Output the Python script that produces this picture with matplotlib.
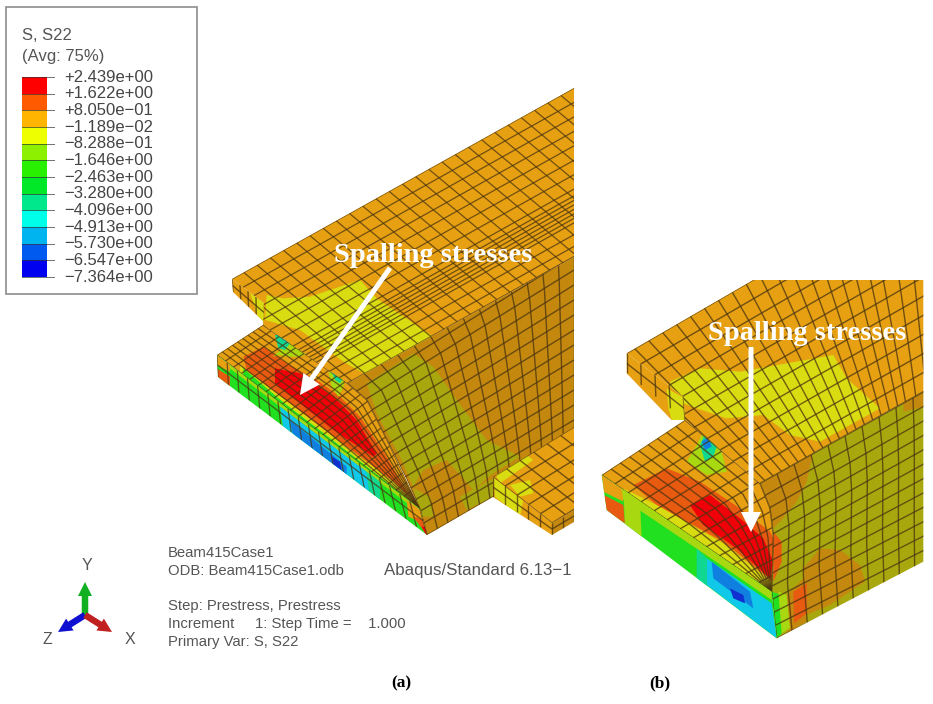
import numpy as np
import matplotlib
matplotlib.use("Agg")
import matplotlib.pyplot as plt
from matplotlib.patches import Polygon, Rectangle, FancyArrow
from matplotlib.collections import LineCollection

plt.rcParams['font.family'] = ['Liberation Sans', 'DejaVu Sans']

# ---------- legend data ----------
legend_title = ["S, S22", "(Avg: 75%)"]
legend_labels = ["+2.439e+00", "+1.622e+00", "+8.050e\u221201", "\u22121.189e\u221202",
                 "\u22128.288e\u221201", "\u22121.646e+00", "\u22122.463e+00", "\u22123.280e+00",
                 "\u22124.096e+00", "\u22124.913e+00", "\u22125.730e+00", "\u22126.547e+00",
                 "\u22127.364e+00"]
legend_colors = ["#FF0000", "#FF5A00", "#FFB400", "#EEFF00", "#8CF000", "#28F000",
                 "#00E828", "#00E88C", "#00FFE8", "#00B4F0", "#005AF0", "#0000F0"]
info_lines = ["Beam415Case1", "ODB: Beam415Case1.odb", "", "Step: Prestress, Prestress",
              "Increment     1: Step Time =    1.000", "Primary Var: S, S22"]
info_right = "Abaqus/Standard 6.13\u22121"

# ---------- palette ----------
ORANGE, DARKOR, OLIVE, YELLOW = "#E6A012", "#C4880E", "#A8A80E", "#D8DC10"
REDOR, RED, YG, GREEN = "#E85A10", "#F00008", "#A8D810", "#20E020"
TEAL, CYAN, BLUE, DBLUE = "#10D890", "#10C8E8", "#1080E0", "#1030D0"
LINE = "#4A3410"

fig = plt.figure(figsize=(9.33, 7.04), dpi=100, facecolor="white")
ax = fig.add_axes([0, 0, 1, 1])
ax.set_xlim(0, 933)
ax.set_ylim(704, 0)
ax.axis("off")


def rail(poly, s):
    p = np.asarray(poly, float)
    d = np.r_[0, np.cumsum(np.hypot(*np.diff(p, axis=0).T))]
    d = d / d[-1]
    return np.c_[np.interp(s, d, p[:, 0]), np.interp(s, d, p[:, 1])]


def face(outline, base, blobs, a, b, ss, ts, z=1.0, lw=1.0):
    poly = Polygon(outline, closed=True, fc=base, ec="none", zorder=z)
    ax.add_patch(poly)
    for col, pts in blobs:
        p = Polygon(pts, closed=True, fc=col, ec="none", zorder=z + .01)
        ax.add_patch(p)
        p.set_clip_path(poly)
    segs = []
    fine = np.linspace(0, 1, 60)
    tmin, tmax = min(ts), max(ts)
    for s in ss:
        A, B = rail(a, [s]), rail(b, [s])
        segs.append(A + np.outer(tmin + fine * (tmax - tmin), B - A))
    for t in ts:
        segs.append(rail(a, fine) * (1 - t) + rail(b, fine) * t)
    lc = LineCollection(segs, colors=LINE, linewidths=lw, alpha=.75, zorder=z + .02)
    ax.add_collection(lc)
    lc.set_clip_path(poly)


def zm(pts, ox, oy):
    return [(ox + x / 3, oy + y / 3) for x, y in pts]


def A_(pts):
    return zm(pts, 200, 240)


def B_(pts):
    return zm(pts, 590, 275)


lin = np.linspace

# ================= panel (a) =================
# top surface
face([(232, 279), (574, 88), (574, 257), (353, 380), (347, 383), (263, 325), (264, 303)], ORANGE,
     [(YELLOW, A_([(200, 165), (250, 175), (330, 170), (480, 120), (530, 175), (700, 290),
                   (640, 335), (500, 405), (430, 365), (300, 270), (195, 240)]))],
     [(232, 279), (353, 380)], [(574, 88), (695, 189)],
     np.r_[lin(0, .6, 8), lin(.64, .8, 7), .87, .94, 1], lin(-.12, 1, 30), lw=.9)
# upper flange side
face([(232, 279), (264, 303), (264, 322), (233, 292)], ORANGE,
     [(YELLOW, [(250, 293), (264, 303), (264, 322), (258, 316)])],
     [(232, 279), (233, 292)], [(264, 303), (264, 322)], [.5], lin(0, 1, 5))
# curved end face
arc = [(347, 383), (367, 400), (387, 440), (407, 480), (420, 509), (427, 535)]
face(arc + [(574, 450), (574, 257), (353, 380)], DARKOR,
     [(OLIVE, A_([(500, 430), (640, 340), (700, 380), (770, 480), (860, 600), (960, 650),
                  (880, 700), (820, 750), (740, 660), (670, 690), (640, 740), (600, 650), (530, 520)])),
      (OLIVE, A_([(640, 745), (690, 770), (700, 830), (660, 830)])),
      (OLIVE, A_([(780, 770), (880, 715), (880, 770), (800, 810)]))],
     arc, [(574, 240), (574, 450)], lin(0, 1, 15), lin(0, 1, 15))
# lower flange top (fan)
front = [(217, 355), (420, 509)]
back = [(263, 325), (347, 383), (367, 400), (387, 440), (420, 509)]
face(front + back[::-1], ORANGE,
     [(REDOR, A_([(130, 350), (190, 320), (260, 370), (350, 420), (420, 470), (480, 530),
                  (560, 650), (640, 790), (580, 745), (400, 620), (250, 500), (140, 390)])),
      (RED, A_([(225, 385), (300, 400), (400, 470), (470, 540), (530, 640), (520, 650),
                (400, 570), (300, 490), (225, 430)])),
      (YELLOW, A_([(120, 375), (250, 475), (400, 590), (580, 725), (650, 790), (650, 805),
                   (400, 611), (250, 497), (120, 398)])),
      (GREEN, A_([(130, 385), (250, 487), (400, 602), (600, 757), (650, 805), (400, 620),
                  (250, 505), (130, 410)])),
      (YG, A_([(218, 350), (290, 290), (330, 340), (300, 350), (260, 350), (240, 345)])),
      (TEAL, A_([(225, 285), (290, 282), (255, 330), (235, 325)])),
      (CYAN, A_([(240, 285), (285, 282), (260, 310)])),
      (BLUE, A_([(250, 287), (275, 287), (260, 300)])),
      (YG, A_([(385, 395), (440, 395), (430, 440), (415, 470), (395, 440)])),
      (TEAL, A_([(395, 395), (440, 395), (420, 430), (405, 420)])),
      (REDOR, A_([(270, 262), (310, 270), (300, 285)])),
      (REDOR, A_([(390, 380), (450, 378), (410, 395)]))],
     front, back, lin(0, 1, 26), lin(0, 1, 10), lw=.9)
# lower flange side
side_a = [(217, 355), (218, 377)]
side_b = [(420, 509), (427, 535)]
face(side_a + side_b[::-1], GREEN,
     [(YG, A_([(50, 345), (650, 800), (655, 815), (50, 355)])),
      (CYAN, A_([(240, 500), (300, 545), (500, 695), (510, 770), (300, 612), (250, 565)])),
      (BLUE, A_([(270, 540), (330, 590), (440, 680), (440, 710), (330, 630), (280, 590)])),
      (DBLUE, A_([(395, 650), (420, 665), (425, 690), (400, 675)])),
      (TEAL, A_([(500, 695), (540, 725), (540, 790), (510, 770)])),
      (ORANGE, A_([(50, 345), (90, 375), (90, 395), (50, 375)])),
      (REDOR, A_([(50, 385), (90, 410), (90, 440), (55, 415)])),
      (ORANGE, A_([(620, 780), (670, 815), (670, 850), (625, 830)])),
      (REDOR, A_([(640, 830), (680, 840), (680, 885)])),
      (RED, A_([(665, 860), (685, 860), (680, 888)]))],
     side_a, side_b, [.45], lin(0, 1, 21), z=2, lw=.9)
# right flange
face([(493, 477), (574, 427), (574, 510), (552, 523)], ORANGE,
     [(YELLOW, A_([(885, 700), (980, 645), (1000, 660), (900, 730)])),
      (YELLOW, A_([(930, 735), (990, 720), (1000, 760), (960, 770)]))],
     [(493, 477), (552, 523)], [(574, 427), (633, 473)], lin(0, 1, 6), lin(0, 1, 7), z=3)
face([(493, 477), (552, 523), (552, 535), (493, 497)], ORANGE,
     [(YELLOW, A_([(880, 710), (930, 745), (970, 780), (960, 830), (885, 770)]))],
     [(493, 477), (493, 497)], [(552, 523), (552, 535)], [.5], lin(0, 1, 6), z=3)
face([(552, 523), (574, 510), (574, 522), (552, 535)], DARKOR, [],
     [(552, 523), (552, 535)], [(574, 510), (574, 522)], [.5], lin(0, 1, 3), z=3)

# ================= panel (b) =================
face(B_([(110, 235), (490, 15), (1000, 15), (1000, 350), (510, 625), (285, 435), (280, 365)]), ORANGE,
     [(YELLOW, B_([(240, 320), (330, 280), (450, 290), (730, 240), (770, 310), (870, 400),
                   (690, 500), (600, 480), (520, 420), (410, 430), (320, 400), (240, 370)]))],
     B_([(110, 235), (510, 625)]), B_([(1100, -339), (1100, 294)]),
     lin(0, 1, 12), np.r_[lin(-.06, .7, 19), lin(.74, 1, 6)])
face(B_([(110, 235), (280, 365), (285, 435), (245, 435), (110, 295)]), ORANGE,
     [(YELLOW, B_([(230, 340), (285, 370), (285, 435), (245, 435), (235, 400)]))],
     B_([(110, 235), (110, 295)]), B_([(280, 365), (285, 435)]), [.5], lin(0, 1, 5))
b_arc = [(510, 625), (540, 700), (550, 780), (545, 950), (560, 1090)]
face(B_(b_arc + [(1000, 860), (1000, 350)]), OLIVE,
     [(DARKOR, B_([(510, 625), (670, 530), (650, 620), (620, 680), (570, 740), (550, 760)])),
      (DARKOR, B_([(940, 380), (1000, 350), (1000, 395), (940, 410)])),
      (DARKOR, B_([(640, 880), (690, 820), (750, 825), (810, 870), (825, 920), (720, 990), (650, 1020)])),
      (REDOR, B_([(550, 770), (575, 800), (575, 860), (550, 920)])),
      (DARKOR, B_([(590, 960), (650, 900), (650, 1040), (590, 1075)])),
      (REDOR, B_([(610, 950), (650, 925), (650, 1015), (612, 1045)])),
      (GREEN, B_([(545, 950), (575, 960), (590, 1060), (560, 1090)])),
      (YG, B_([(565, 950), (590, 960), (600, 1060), (575, 1075)]))],
     B_(b_arc), B_([(1020, 340), (1020, 860)]), lin(0, 1, 13), lin(0, 1, 11))
b_front = [(35, 600), (545, 950)]
b_back = [(285, 435), (510, 625), (540, 700), (550, 780), (545, 950)]
face(B_(b_front + b_back[::-1]), ORANGE,
     [(REDOR, B_([(130, 630), (230, 580), (330, 620), (450, 700), (540, 770), (570, 830), (550, 920),
                  (400, 800), (200, 690)])),
      (RED, B_([(300, 690), (360, 660), (450, 730), (520, 790), (550, 860), (540, 910),
                (440, 820), (340, 750)])),
      (YELLOW, B_([(100, 640), (200, 690), (400, 805), (550, 925), (545, 960), (400, 850), (200, 720), (100, 670)])),
      (YG, B_([(290, 560), (320, 510), (340, 470), (390, 510), (410, 590), (350, 600)])),
      (TEAL, B_([(330, 510), (350, 465), (385, 500), (370, 545), (345, 560)])),
      (BLUE, B_([(335, 500), (355, 485), (365, 515), (345, 525)])),
      (REDOR, B_([(390, 450), (420, 480), (450, 490), (420, 510), (400, 485)]))],
     B_(b_front), B_(b_back), lin(0, 1, 14), lin(0, 1, 10))
b_a = [(35, 600), (50, 705)]
b_b = [(545, 950), (560, 1090)]
face(B_(b_a + b_b[::-1]), GREEN,
     [(YG, B_([(95, 640), (200, 710), (400, 850), (545, 950), (545, 975), (400, 875), (200, 740), (95, 670)])),
      (ORANGE, B_([(35, 600), (95, 640), (100, 680), (40, 650)])),
      (REDOR, B_([(42, 660), (100, 690), (105, 745), (50, 710)])),
      (YG, B_([(100, 640), (150, 680), (155, 790), (105, 750)])),
      (TEAL, B_([(320, 820), (350, 850), (350, 950), (320, 920)])),
      (CYAN, B_([(350, 850), (545, 985), (560, 1090), (350, 930)])),
      (BLUE, B_([(365, 860), (480, 950), (490, 1000), (370, 910)])),
      (DBLUE, B_([(420, 940), (460, 960), (465, 985), (430, 970)]))],
     b_a, b_b, [.5], lin(0, 1, 10), z=2)

# ================= legend =================
ax.add_patch(Rectangle((6, 7), 191, 287, fc="white", ec="#8C8C8C", lw=1.2, zorder=5))
for line, y in zip(legend_title, [35, 57]):
    ax.text(22, y, line, fontsize=12, color="#555555", va="center", zorder=6)
y0, dy, xb, wb = 77.0, 16.67, 22, 25
for i, col in enumerate(legend_colors):
    ax.add_patch(Rectangle((xb, y0 + i * dy), wb, dy, fc=col, ec="none", zorder=6))
for i, lab in enumerate(legend_labels):
    y = y0 + i * dy
    ax.plot([xb, 54], [y, y], color="#333333", lw=.7, alpha=.7, zorder=7)
    ax.text(64, y, lab, fontsize=12, color="#444444", va="center", zorder=7)

# ================= triad =================
ox, oy = 85, 615
for dx, dy_, col in [(0, -33, "#10B020"), (-27, 17, "#1010D0"), (27, 17, "#C02020")]:
    ax.add_patch(FancyArrow(ox, oy, dx, dy_, width=6.5, head_width=14, head_length=14,
                            length_includes_head=True, fc=col, ec="none", zorder=6))
for s, x, y in [("Y", 87, 566), ("Z", 47, 639), ("X", 130, 639)]:
    ax.text(x, y, s, fontsize=11.5, color="#555555", ha="center", va="center", zorder=6)

# ================= info text =================
for line, y in zip(info_lines, [553, 571, 588, 606, 624, 642]):
    ax.text(168, y, line, fontsize=10.7, color="#555555", va="center", zorder=6)
ax.text(384, 571, info_right, fontsize=12.2, color="#555555", va="center", zorder=6)

# ================= annotations =================
serif = ['Liberation Serif', 'DejaVu Serif']
for s, x, y in [("Spalling stresses", 433, 255), ("Spalling stresses", 807, 334)]:
    ax.text(x, y, s, family=serif, fontweight="bold", fontsize=20.5, color="white",
            ha="center", va="center", zorder=9)
for s, x in [("(a)", 401), ("(b)", 660)]:
    ax.text(x, 683, s, family=serif, fontweight="bold", fontsize=12.5, color="black",
            ha="center", va="center", zorder=9)
for (x0, y0_), (x1, y1) in [((390, 268), (300, 395)), ((751, 347), (751, 532))]:
    ax.add_patch(FancyArrow(x0, y0_, x1 - x0, y1 - y0_, width=5, head_width=20, head_length=20,
                            length_includes_head=True, fc="white", ec="none", zorder=9))

fig.savefig("out.png", dpi=100, facecolor="white")
